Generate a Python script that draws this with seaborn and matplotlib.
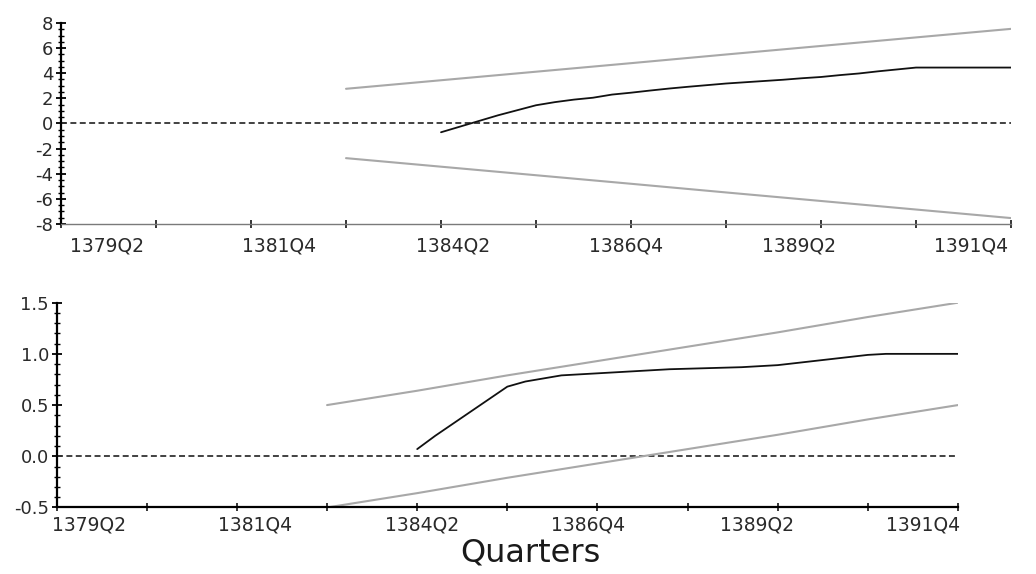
import pandas as pd
import matplotlib
matplotlib.use("Agg")
import matplotlib.pyplot as plt
import seaborn as sns

# observation index along the x axis (0..50)
obs = list(range(20, 51))
bound_obs = [15, 20, 25, 30, 35, 40, 45, 50]

# top panel: CUSUM and its 5% bounds
cusum = [-0.70, -0.25, 0.20, 0.65, 1.05, 1.45, 1.70, 1.90, 2.05, 2.30,
         2.45, 2.62, 2.78, 2.92, 3.05, 3.18, 3.28, 3.38, 3.48, 3.60,
         3.70, 3.85, 3.98, 4.15, 4.30, 4.45, 4.45, 4.45, 4.45, 4.45, 4.45]
cusum_upper = [2.76, 3.44, 4.12, 4.80, 5.49, 6.17, 6.85, 7.53]
cusum_lower = [-2.76, -3.44, -4.12, -4.80, -5.49, -6.17, -6.85, -7.53]

# bottom panel: CUSUM of squares and its 5% bounds
cusum_sq = [0.07, 0.20, 0.32, 0.44, 0.56, 0.68, 0.73, 0.76, 0.79, 0.80,
            0.81, 0.82, 0.83, 0.84, 0.85, 0.855, 0.86, 0.865, 0.87, 0.88,
            0.89, 0.91, 0.93, 0.95, 0.97, 0.99, 1.0, 1.0, 1.0, 1.0, 1.0]
sq_upper = [0.50, 0.64, 0.79, 0.93, 1.07, 1.21, 1.36, 1.50]
sq_lower = [-0.50, -0.36, -0.21, -0.07, 0.07, 0.21, 0.36, 0.50]

quarter_labels = ["1379Q2", "1381Q4", "1384Q2", "1386Q4", "1389Q2", "1391Q4"]
top_label_pos = [2.42, 11.47, 20.63, 29.74, 38.84, 47.89]
bottom_label_pos = [1.78, 11.0, 20.28, 29.47, 38.87, 48.06]

sns.set_style("ticks")
plt.rcParams["font.family"] = ["DejaVu Sans"]
plt.rcParams["axes.unicode_minus"] = False

fig = plt.figure(figsize=(10.36, 5.74), dpi=100)
ax1 = fig.add_axes([0.0589, 0.6098, 0.9170, 0.3502])
ax2 = fig.add_axes([0.0547, 0.1159, 0.8700, 0.3568])

GRAY = "#a8a8a8"
dash = (0, (3.3, 1.9))


def draw(ax, stat, upper, lower):
    df = pd.DataFrame({"obs": obs, "value": stat})
    bd = pd.DataFrame({"obs": bound_obs, "upper": upper, "lower": lower})
    ax.axhline(0, color="#333333", lw=1.3, ls=dash, zorder=1)
    sns.lineplot(data=bd, x="obs", y="upper", color=GRAY, lw=1.5, ax=ax)
    sns.lineplot(data=bd, x="obs", y="lower", color=GRAY, lw=1.5, ax=ax)
    sns.lineplot(data=df, x="obs", y="value", color="#111111", lw=1.3, ax=ax)
    ax.set_xlim(0, 50)
    ax.set_xlabel("")
    ax.set_ylabel("")
    for s in ["top", "right"]:
        ax.spines[s].set_visible(False)
    ax.spines["left"].set_color("black")
    ax.spines["left"].set_linewidth(1.6)
    ax.set_xticks(list(range(0, 51, 5)), minor=True)
    ax.tick_params(axis="x", which="minor", direction="inout", length=6,
                   width=1.1, color="black")
    ax.tick_params(axis="y", which="both", direction="inout", color="black")
    ax.tick_params(axis="y", which="major", length=7, width=1.3,
                   labelsize=13, labelcolor="#2a2a2a", pad=2)
    ax.tick_params(axis="y", which="minor", length=4, width=1.0)


draw(ax1, cusum, cusum_upper, cusum_lower)
ax1.set_ylim(-8, 8)
ax1.set_yticks([-8, -6, -4, -2, 0, 2, 4, 6, 8])
ax1.set_yticks([v / 2 for v in range(-16, 17)], minor=True)
ax1.set_xticks(top_label_pos, quarter_labels)
ax1.tick_params(axis="x", which="major", length=0, labelsize=13.5,
                labelcolor="#2a2a2a", pad=9)
ax1.spines["bottom"].set_color("#7a7a7a")
ax1.spines["bottom"].set_linewidth(1.0)

draw(ax2, cusum_sq, sq_upper, sq_lower)
ax2.set_ylim(-0.5, 1.5)
ax2.set_yticks([-0.5, 0.0, 0.5, 1.0, 1.5], ["-0.5", "0.0", "0.5", "1.0", "1.5"])
ax2.set_yticks([v / 10 for v in range(-5, 16)], minor=True)
ax2.set_xticks(bottom_label_pos, quarter_labels)
ax2.tick_params(axis="x", which="major", length=0, labelsize=13.5,
                labelcolor="#2a2a2a", pad=6)
ax2.spines["bottom"].set_color("black")
ax2.spines["bottom"].set_linewidth(1.6)

fig.text(530 / 1036, 1 - 553 / 574, "Quarters", ha="center", va="center",
         fontsize=23, color="#1a1a1a")

fig.savefig("out.png", dpi=100)
plt.close(fig)
